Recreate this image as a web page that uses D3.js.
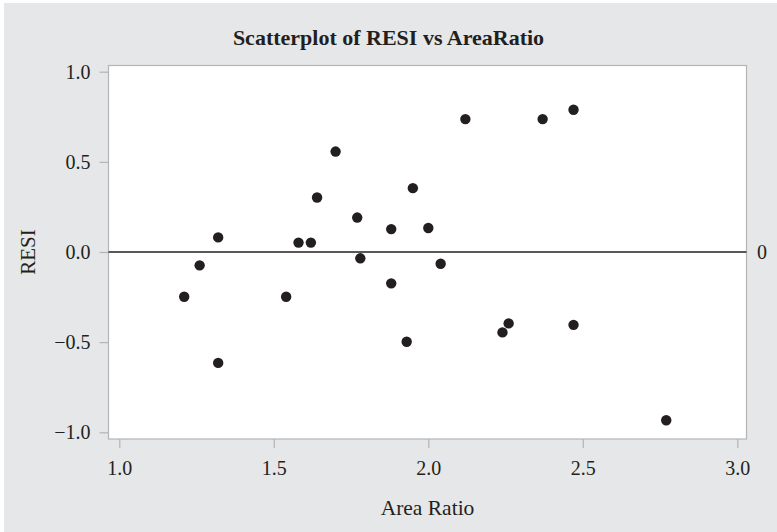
<!DOCTYPE html>
<html>
<head>
<meta charset="utf-8">
<script src="https://cdn.jsdelivr.net/npm/d3@7"></script>
<style>
  body { margin: 0; background: #fff; }
  text { font-family: "Liberation Serif", "DejaVu Serif", serif; fill: #231f20; }
</style>
</head>
<body>
<div id="chart"></div>
<script>
// values
const areaRatio = [1.21, 1.26, 1.32, 1.32, 1.54, 1.58, 1.62, 1.64, 1.70, 1.77, 1.78, 1.88,
                   1.88, 1.93, 1.95, 2.00, 2.04, 2.12, 2.24, 2.26, 2.37, 2.47, 2.47, 2.77];
const resi = [-0.248, -0.074, 0.081, -0.615, -0.248, 0.052, 0.052, 0.302, 0.557, 0.191, -0.035, 0.127,
              -0.174, -0.498, 0.354, 0.133, -0.065, 0.737, -0.446, -0.396, 0.737, 0.789, -0.404, -0.933];
const xTicks = [1.0, 1.5, 2.0, 2.5, 3.0];
const yTicks = [-1.0, -0.5, 0.0, 0.5, 1.0];

const width = 777;
const height = 532;
const plot = { left: 108.5, right: 746.5, top: 65.5, bottom: 439 };
const ink = '#231f20';
const frame = '#b4b4b4';

const svg = d3.select('#chart')
              .append('svg')
              .attr('width', width)
              .attr('height', height);

svg.append('rect')
   .attr('x', 4)
   .attr('y', 3)
   .attr('width', width - 4)
   .attr('height', height - 3)
   .attr('fill', '#e6e7e8');

const xScale = d3.scaleLinear()
                 .domain([1, 3])
                 .range([119.3, 737.3]);

const yScale = d3.scaleLinear()
                 .domain([-1, 1])
                 .range([432.3, 71.7]);

svg.append('rect')
   .attr('x', plot.left)
   .attr('y', plot.top)
   .attr('width', plot.right - plot.left)
   .attr('height', plot.bottom - plot.top)
   .attr('fill', '#fff')
   .attr('stroke', frame)
   .attr('stroke-width', 1.2);

const xAxis = d3.axisBottom(xScale)
                .tickValues(xTicks)
                .tickFormat(d3.format('.1f'))
                .tickSize(9)
                .tickPadding(13);

const yAxis = d3.axisLeft(yScale)
                .tickValues(yTicks)
                .tickFormat((d) => d3.format('.1f')(d).replace('-', '\u2013'))
                .tickSize(9)
                .tickPadding(9);

const gx = svg.append('g')
              .attr('transform', 'translate(0, ' + plot.bottom + ')')
              .call(xAxis);

const gy = svg.append('g')
              .attr('transform', 'translate(' + plot.left + ', 0)')
              .call(yAxis);

[gx, gy].forEach((g) => {
  g.select('.domain').remove();
  g.selectAll('line').attr('stroke', frame).attr('stroke-width', 1.2);
  g.selectAll('text')
   .attr('fill', ink)
   .style('font-size', '20px')
   .style('font-family', '"Liberation Serif", serif');
});

// reference line at zero
svg.append('line')
   .attr('x1', plot.left)
   .attr('x2', plot.right)
   .attr('y1', yScale(0))
   .attr('y2', yScale(0))
   .attr('stroke', ink)
   .attr('stroke-width', 1.5);

svg.append('text')
   .attr('x', 762)
   .attr('y', yScale(0))
   .attr('dy', '0.35em')
   .attr('text-anchor', 'middle')
   .style('font-size', '20px')
   .text('0');

svg.selectAll('circle')
   .data(areaRatio)
   .enter()
   .append('circle')
   .attr('cx', (d) => xScale(d))
   .attr('cy', (d, i) => yScale(resi[i]))
   .attr('r', 5.2)
   .attr('fill', ink);

svg.append('text')
   .attr('x', width / 2)
   .attr('y', 45)
   .attr('text-anchor', 'middle')
   .style('font-size', '22px')
   .style('font-weight', 'bold')
   .text('Scatterplot of RESI vs AreaRatio');

svg.append('text')
   .attr('x', (plot.left + plot.right) / 2)
   .attr('y', 515)
   .attr('text-anchor', 'middle')
   .style('font-size', '21.5px')
   .text('Area Ratio');

svg.append('text')
   .attr('transform', 'translate(35, ' + yScale(0) + ') rotate(-90)')
   .attr('text-anchor', 'middle')
   .style('font-size', '21px')
   .text('RESI');
</script>
</body>
</html>
